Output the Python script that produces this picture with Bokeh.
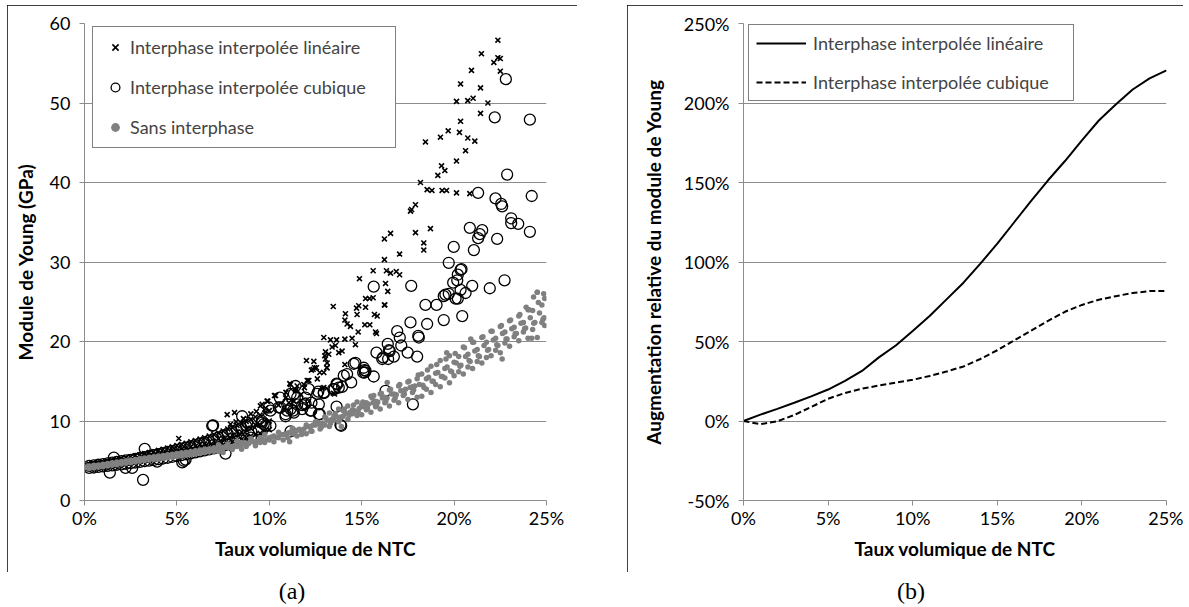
from bokeh.plotting import figure
from bokeh.models import (Legend, LegendItem, ColumnDataSource, PrintfTickFormatter,
                          FixedTicker, Range1d, Div, Spacer)
from bokeh.layouts import row, column
from bokeh.embed import file_html
from bokeh.resources import INLINE

# ---------------- data : panel (a) ----------------
# "Interphase interpolée linéaire" (x markers) - dense part near the origin
lin_dense_x = [0.25,0.5,0.75,1.0,1.25,1.5,1.75,2.0,2.25,2.5,2.75,3.0,3.25,3.5,3.75,4.0,4.25,4.5,4.75,5.0,
               5.25,5.5,5.75,6.0,6.25,6.5,6.75,7.0,7.25,7.5,7.75,8.0,8.25,8.5,8.75,9.0,9.25,9.5,9.75,10.0]
lin_dense_lo = [4.12,4.18,4.25,4.33,4.36,4.45,4.52,4.6,4.68,4.75,4.82,4.9,5.02,5.1,5.17,5.3,5.38,5.5,5.58,5.7,
                5.82,5.95,6.05,6.18,6.3,6.42,6.55,6.7,6.85,7.02,7.2,7.38,7.55,7.7,7.9,8.1,8.3,8.45,8.7,8.9]
lin_dense_mid = [4.27,4.31,4.38,4.52,4.57,4.63,4.77,4.83,4.97,5.03,5.17,5.23,5.42,5.48,5.62,5.73,5.88,5.97,6.14,6.22,
                 6.43,6.52,6.74,6.82,7.05,7.1,7.36,7.45,7.76,7.85,8.18,8.22,8.6,8.62,9.02,9.08,9.52,9.5,10.0,10.0]
lin_dense_hi = [4.6,4.65,4.75,4.85,4.95,5.05,5.15,5.28,5.4,5.5,5.62,5.75,5.9,6.02,6.15,6.3,6.45,6.6,6.75,6.9,
                7.05,7.2,7.38,7.55,7.72,7.9,8.1,8.3,8.5,8.75,9.0,9.2,9.45,9.7,9.95,10.2,10.5,10.75,11.0,11.3]
# scattered points
lin_sparse_x = [22.37,21.48,22.37,22.5,22.15,20.94,22.5,20.35,21.43,20.13,20.74,21.03,21.83,21.43,20.35,18.45,19.26,19.68,
                20.29,20.74,21.12,20.62,20.13,19.32,19.5,19.12,18.18,18.54,18.8,19.35,19.59,20.13,20.85,
                17.64,17.91,17.7,16.23,16.56,17.91,18.72,18.36,18.36,17.05,16.23,16.34,16.56,16.87,17.05,16.29,16.41,16.23,
                15.62,14.88,15.21,15.42,15.62,16.25,13.46,14.72,14.84,15.21,14.12,14.75,15.69,15.84,14.09,14.21,14.39,15.17,
                15.44,14.81,15.75,15.8,12.95,13.31,13.64,14.09,14.48,14.66,13.4,13.58,13.04,13.22,13.76,13.94,12.01,12.41,
                13.04,13.13,14.09,12.37,13.1,13.0,12.28,12.45,12.73,11.11,11.51,11.87,12.14,12.86,13.46,10.28,9.88,9.52,
                10.88,11.06,11.33,7.72,8.12,5.1,9.61,9.92,10.34,11.15,11.42,12.05,12.55,12.95,13.13,13.53,12.95,
                9.0,9.3,8.6,9.8,10.5,8.2,7.9,10.9,11.4,11.7,12.6,11.9]
lin_sparse_y = [57.9,56.2,55.7,55.6,55.1,54.1,54.0,52.4,51.9,50.2,50.3,50.6,50.0,48.7,47.7,45.1,45.7,46.5,
                46.3,45.6,45.2,44.0,42.7,42.1,41.5,40.9,40.0,39.1,39.0,39.0,39.0,38.7,38.6,
                36.4,37.2,36.6,32.9,33.6,33.7,34.2,32.4,31.5,31.0,30.3,28.9,28.6,28.8,28.4,27.3,26.3,24.6,
                28.9,27.9,25.4,25.4,25.5,24.6,24.4,24.2,24.5,24.3,23.5,23.4,23.4,23.2,22.7,22.2,21.9,22.1,
                22.1,21.2,21.2,21.0,20.5,20.2,20.2,20.3,20.4,19.6,19.3,19.5,18.7,18.4,18.6,18.8,17.6,17.5,
                17.8,17.3,17.1,16.5,16.7,18.2,16.4,16.7,16.1,14.7,14.4,14.6,15.1,14.1,13.5,13.2,12.5,11.9,
                12.9,12.3,12.5,10.8,11.05,7.8,12.1,12.5,13.2,14.6,13.8,15.1,16.7,16.1,16.7,13.4,14.2,
                10.9,11.2,10.3,11.6,12.0,9.9,9.6,13.6,14.0,13.3,15.3,14.2]

# "Interphase interpolée cubique" (open circles)
cub_dense_x = [0.25,0.5,0.75,1.0,1.25,1.5,1.75,2.0,2.25,2.5,2.75,3.0,3.25,3.5,3.75,4.0,4.25,4.5,
               4.75,5.0,5.25,5.5,5.75,6.0,6.25,6.5,6.75,7.0,7.25,7.5,7.75,8.0,8.25,8.5,8.75,9.0]
cub_dense_lo = [4.1,4.15,4.22,4.3,4.35,4.42,4.5,4.55,4.62,4.7,4.78,4.86,4.95,5.02,5.1,5.2,5.28,5.38,
                5.5,5.6,5.7,5.82,5.92,6.05,6.18,6.3,6.42,6.55,6.72,6.88,7.05,7.2,7.38,7.55,7.72,7.9]
cub_dense_hi = [4.35,4.42,4.5,4.58,4.68,4.76,4.85,4.95,5.05,5.12,5.24,5.35,5.46,5.58,5.7,5.82,5.95,6.1,
                6.22,6.38,6.52,6.66,6.8,6.98,7.15,7.3,7.5,7.7,7.92,8.15,8.38,8.6,8.85,9.1,9.35,9.6]
cub_sparse_x = [22.8,22.2,24.1,22.87,21.3,22.24,24.2,22.55,22.6,23.09,23.09,23.47,24.1,20.85,21.52,21.39,21.3,22.33,
                19.98,21.07,19.71,20.4,20.35,20.2,20.17,19.95,20.35,20.62,20.2,20.08,19.53,19.44,19.71,20.98,21.93,22.73,
                17.68,18.45,19.05,20.44,17.64,18.54,19.44,16.92,17.06,18.06,18.09,16.41,17.14,16.47,17.49,18.0,16.74,16.11,
                15.65,15.8,16.43,14.66,15.11,16.52,16.16,15.15,15.17,15.65,14.21,14.43,13.64,13.76,13.46,12.65,12.95,12.59,
                16.29,17.77,13.64,12.68,10.88,11.29,11.78,11.96,12.23,12.28,11.51,11.15,10.51,10.06,10.57,10.97,13.89,
                10.06,9.7,9.6,14.57,15.08,15.21,14.03,13.67,13.53,13.94,12.95,12.14,11.96,12.68,12.27,12.73,11.42,11.33,
                11.51,11.9,11.78,11.15,11.33,10.88,10.61,10.97,9.97,9.61,9.79,9.43,9.02,8.8,8.53,13.85,11.15,
                1.37,3.17,5.29,5.47,7.63,6.96,3.26,1.59,2.22,2.58,3.93,5.37,6.91]
cub_sparse_y = [53.0,48.2,47.9,41.0,38.7,38.0,38.3,37.3,37.0,35.5,34.9,34.8,33.8,34.3,34.0,33.5,33.0,32.9,
                31.9,31.5,29.9,29.1,29.0,28.4,27.7,27.4,26.5,26.1,25.4,25.4,25.9,25.7,26.0,27.0,26.7,27.7,
                27.0,24.6,24.6,23.2,22.4,22.2,22.7,21.3,20.5,20.7,20.5,19.7,19.5,18.9,18.6,18.1,18.1,17.8,
                26.9,18.6,17.8,17.3,16.7,18.8,18.0,16.4,16.1,15.6,15.9,14.85,14.7,14.2,14.0,13.7,13.5,13.4,
                13.8,12.1,11.8,10.85,10.6,11.3,12.0,12.2,11.3,12.3,12.95,13.4,11.7,11.3,12.95,12.1,9.4,
                9.4,9.6,10.0,17.2,16.1,16.3,15.7,14.6,14.0,14.3,13.6,14.0,12.95,12.1,11.3,10.85,14.4,13.4,
                12.1,12.1,11.5,11.5,11.05,10.85,11.7,11.3,11.7,9.8,9.4,8.95,8.7,9.8,10.6,9.5,8.7,
                3.5,2.6,4.8,5.15,5.9,9.45,6.5,5.4,4.1,4.1,4.9,5.0,9.4]

# "Sans interphase" (grey dots)
gray_x_ab = [0.25,0.5,0.75,1.0,1.25,1.5,1.75,2.0,2.25,2.5,2.75,3.0,3.25,3.5,3.75,4.0,4.25,4.5,4.75,5.0,
             5.25,5.5,5.75,6.0,6.25,6.5,6.75,7.0,7.25,7.5,7.75,8.0,8.25,8.5,8.75,9.0,9.25,9.5,9.75,10.0,
             10.25,10.5,10.75,11.0,11.25,11.5,11.75,12.0,12.25,12.5,12.75,13.0,13.25,13.5,13.75,14.0,14.25,14.5,14.75,15.0,
             15.25,15.5,15.75,16.0,16.25,16.5,16.75,17.0,17.25,17.5,17.75,18.0,18.25,18.5,18.75,19.0,19.25,19.5,19.75,20.0,
             20.25,20.5,20.75,21.0,21.25,21.5,21.75,22.0,22.25,22.5,22.75,23.0,23.25,23.5,23.75,24.0,24.25,24.5,24.75,24.9]
gray_y_a = [4.33,4.42,4.48,4.57,4.66,4.74,4.83,4.92,5.0,5.1,5.17,5.27,5.35,5.43,5.5,5.6,5.66,5.75,5.82,5.9,
            6.0,6.08,6.17,6.25,6.36,6.45,6.52,6.62,
            7.0,6.7,7.1,6.7,7.5,7.3,7.2,7.8,7.4,7.9,8.3,7.9,8.1,8.6,8.3,8.5,9.1,8.8,8.7,9.5,9.3,9.9,9.6,10.5,
            11.0,10.6,11.5,11.3,11.9,11.4,12.4,12.0,12.3,13.1,12.5,13.4,13.0,13.9,13.4,14.4,13.8,14.9,14.3,15.3,
            15.9,15.3,16.9,16.0,17.6,16.6,18.2,17.4,18.1,19.3,18.4,19.9,19.0,20.5,19.9,21.3,20.4,21.9,21.2,22.6,
            21.8,23.2,22.4,24.0,23.9,26.2,24.6,25.4]
gray_y_b = [4.04,4.1,4.18,4.24,4.33,4.42,4.5,4.58,4.68,4.76,4.85,4.93,5.02,5.08,5.16,5.22,5.3,5.37,5.45,5.52,
            5.6,5.7,5.78,5.86,5.95,6.03,6.12,6.2,
            6.2,6.05,6.7,6.4,6.8,6.45,6.8,7.4,6.9,7.3,7.3,7.6,7.4,7.9,7.6,7.9,8.4,8.1,8.3,8.4,8.7,9.5,9.0,9.5,
            9.3,10.1,9.9,10.6,10.2,10.9,10.7,10.8,11.4,11.1,11.8,11.5,12.3,11.9,12.6,12.3,13.2,12.7,13.6,13.0,
            13.1,14.0,13.6,14.6,14.3,15.4,14.8,15.7,16.2,15.9,16.8,16.6,17.5,17.3,18.0,18.2,18.9,18.6,19.8,19.4,
            20.6,20.1,21.2,20.4,21.5,20.5,22.4,22.0]
gray_x_c = [0.12,0.37,0.62,0.87,1.12,1.37,1.62,1.87,2.12,2.37,2.62,2.87,3.12,3.37,3.62,3.87,4.12,4.37,4.62,4.87,
            5.12,5.37,5.62,5.87,6.12,6.37,6.62,6.87,7.12,7.37,7.62,7.87,8.12,8.37,8.62,8.87,9.12,9.37,9.62,9.87,
            10.12,10.37,10.62,10.87,11.12,11.37,11.62,11.87,12.12,12.37,12.62,12.87,13.12,13.37,13.62,13.87,14.12,14.37,14.62,14.87,
            15.12,15.37,15.62,15.87,16.12,16.37,16.62,16.87,17.12,17.37,17.62,17.87,18.12,18.37,18.62,18.87,19.12,19.37,19.62,19.87,
            20.12,20.37,20.62,20.87,21.12,21.37,21.62,21.87,22.12,22.37,22.62,22.87,23.12,23.37,23.62,23.87,24.12,24.37,24.62,24.87]
gray_y_c = [4.16,4.23,4.3,4.38,4.46,4.55,4.63,4.72,4.8,4.9,4.98,5.07,5.15,5.23,5.3,5.38,5.45,5.52,5.6,5.68,
            5.76,5.85,5.93,6.02,6.11,6.2,6.28,6.37,
            6.48,6.52,6.7,6.68,6.9,6.92,7.1,7.15,7.4,7.42,7.7,7.7,8.0,7.95,8.3,8.3,8.6,8.62,8.95,9.0,9.3,9.5,9.8,9.75,
            10.1,10.2,10.6,10.5,11.0,11.1,11.3,11.6,11.8,12.1,12.3,12.4,12.9,12.9,13.4,13.3,13.8,14.0,14.2,14.4,
            14.6,14.2,15.5,15.0,16.1,15.6,16.8,16.2,17.3,17.0,18.1,17.5,18.8,18.1,19.5,19.0,20.2,19.5,21.0,20.3,
            21.6,21.0,22.3,21.7,23.0,22.4,23.6,23.0]
gray_x_d = [12.06,12.31,12.56,12.81,13.06,13.31,13.56,13.81,14.06,14.31,14.56,14.81,15.06,15.31,15.56,15.81,
            16.06,16.31,16.56,16.81,17.06,17.31,17.56,17.81,18.06,18.31,18.56,18.81,19.06,19.31,19.56,19.81,
            20.06,20.31,20.56,20.81,21.06,21.31,21.56,21.81,22.06,22.31,22.56,22.81,23.06,23.31,23.56,23.81,
            24.06,24.31,24.56,24.81]
gray_y_d = [9.3,8.7,9.9,9.2,10.4,9.7,10.9,10.2,11.5,10.7,12.0,11.1,12.4,11.6,12.9,12.0,
            13.5,12.5,14.0,12.9,14.6,13.4,15.0,13.9,15.8,14.5,16.4,15.0,17.1,15.6,17.8,16.3,
            18.5,16.9,19.2,17.6,19.9,18.2,20.6,18.9,21.3,19.6,22.0,20.3,22.7,21.0,23.4,21.6,
            24.0,22.3,24.9,22.8]
gray_sparse_x = [22.6,24.2,16.38,15.65,24.5,24.85,24.3,23.9,13.9,11.1,20.9,19.6]
gray_sparse_y = [17.8,20.4,14.85,13.2,26.2,26.0,25.6,24.3,9.3,7.4,20.3,18.6]

# ---------------- data : panel (b) ----------------
rel_x = [0,1,2,3,4,5,6,7,8,9,10,11,12,13,14,15,16,17,18,19,20,21,22,23,24,25]
rel_lin = [0,4,7.6,11.5,15.5,19.8,25.3,31.5,40,47.5,56.6,66,76.5,87,99,111.5,125,138.5,151.4,163.5,176.5,189,199,208.5,215.5,220.5]
rel_cub = [0,-2,-0.2,3.8,8.8,14,17.6,20.3,22.3,24.2,25.9,28.3,31.1,34.3,39,44.5,50.7,56.8,63,68.7,73,76.3,78.5,80.5,81.7,81.7]

x_ticks = [0, 5, 10, 15, 20, 25]
ya_ticks = [0, 10, 20, 30, 40, 50, 60]
yb_ticks = [-50, 0, 50, 100, 150, 200, 250]

FONT = "Lato"
GRID = "#8c8c8c"
LBL = "18px"
TTL = "19px"
BOX = {"outline": "1px solid black", "outline-offset": "-1px"}


def style(p):
    for ax in p.axis:
        ax.axis_line_color = GRID
        ax.axis_line_width = 1
        ax.major_tick_line_color = GRID
        ax.minor_tick_line_color = None
        ax.major_tick_out = 5
        ax.major_tick_in = 0
        ax.major_label_text_font = FONT
        ax.major_label_text_font_size = LBL
        ax.major_label_text_color = "black"
        ax.axis_label_text_font = FONT
        ax.axis_label_text_font_size = TTL
        ax.axis_label_text_font_style = "bold"
        ax.axis_label_text_color = "black"
    p.xgrid.grid_line_color = None
    p.ygrid.grid_line_color = GRID
    p.ygrid.grid_line_width = 1
    p.outline_line_color = None
    p.background_fill_color = "white"
    p.border_fill_color = "white"
    p.xaxis.major_label_standoff = 1
    p.yaxis.major_label_standoff = 9
    p.xaxis.axis_label_standoff = 5
    p.xaxis.ticker = FixedTicker(ticks=x_ticks)
    p.xaxis.formatter = PrintfTickFormatter(format="%d%%")
    p.xaxis.axis_label = "Taux volumique de NTC"


# ---------------- panel (a) ----------------
pA = figure(width=570, height=567, x_range=Range1d(0, 25), y_range=Range1d(0, 60),
            output_backend="svg", toolbar_location=None,
            min_border_left=77, min_border_right=31, min_border_top=18, min_border_bottom=72)
style(pA)
pA.yaxis.ticker = FixedTicker(ticks=ya_ticks)
pA.yaxis.axis_label = "Module de Young (GPa)"
pA.yaxis.axis_label_standoff = 10

src_lin = ColumnDataSource(dict(x=lin_dense_x * 3 + lin_sparse_x,
                                y=lin_dense_lo + lin_dense_mid + lin_dense_hi + lin_sparse_y))
src_cub = ColumnDataSource(dict(x=cub_dense_x * 2 + cub_sparse_x,
                                y=cub_dense_lo + cub_dense_hi + cub_sparse_y))
src_gray = ColumnDataSource(dict(x=gray_x_ab * 2 + gray_x_c + gray_x_d + gray_sparse_x,
                                 y=gray_y_a + gray_y_b + gray_y_c + gray_y_d + gray_sparse_y))

r_lin = pA.scatter("x", "y", source=src_lin, marker="x", size=7, line_color="black", line_width=1.6)
r_cub = pA.scatter("x", "y", source=src_cub, marker="circle", size=11, line_color="black",
                   line_width=1.3, fill_color=None)
r_gray = pA.scatter("x", "y", source=src_gray, marker="circle", size=5.5, fill_color="#808080",
                    line_color=None)

legA = Legend(items=[LegendItem(label="Interphase interpolée linéaire", renderers=[r_lin]),
                     LegendItem(label="Interphase interpolée cubique", renderers=[r_cub]),
                     LegendItem(label="Sans interphase", renderers=[r_gray])],
              location=(8, 352), padding=9, spacing=18, glyph_height=22, glyph_width=26,
              label_height=22, label_standoff=2, label_width=256, margin=0,
              border_line_color="black", border_line_width=1, background_fill_alpha=1,
              label_text_font=FONT, label_text_font_size=LBL)
pA.add_layout(legA)
pA.styles = dict(BOX)

# ---------------- panel (b) ----------------
pB = figure(width=556, height=567, x_range=Range1d(0, 25), y_range=Range1d(-50, 250),
            output_backend="svg", toolbar_location=None,
            min_border_left=116, min_border_right=17, min_border_top=18, min_border_bottom=72)
style(pB)
pB.yaxis.ticker = FixedTicker(ticks=yb_ticks)
pB.yaxis.formatter = PrintfTickFormatter(format="%d%%")
pB.yaxis.axis_label = "Augmentation relative du module de Young"
pB.yaxis.axis_label_standoff = 16

srcB = ColumnDataSource(dict(x=rel_x, lin=rel_lin, cub=rel_cub))
rb1 = pB.line("x", "lin", source=srcB, line_color="black", line_width=2)
rb2 = pB.line("x", "cub", source=srcB, line_color="black", line_width=2, line_dash="6 3")

legB = Legend(items=[LegendItem(label="Interphase interpolée linéaire", renderers=[rb1]),
                     LegendItem(label="Interphase interpolée cubique", renderers=[rb2])],
              location=(5, 399), padding=7, spacing=17, glyph_height=22, glyph_width=50,
              label_height=22, label_standoff=7, label_width=253, margin=0,
              border_line_color="black", border_line_width=1, background_fill_alpha=1,
              label_text_font=FONT, label_text_font_size=LBL)
pB.add_layout(legB)
pB.styles = dict(BOX)

cap_style = {"font-family": "'Liberation Serif', 'Times New Roman', serif", "font-size": "24px",
             "line-height": "24px", "text-align": "center", "padding-top": "7px", "color": "black"}
capA = Div(text="(a)", width=570, height=34, margin=0, styles=dict(cap_style))
capB = Div(text='<span style="position:relative; left:6px">(b)</span>', width=556, height=34,
           margin=0, styles=dict(cap_style))

layout = row(Spacer(width=7), column(Spacer(height=5), pA, capA), Spacer(width=50),
             column(Spacer(height=5), pB, capB))

with open("out.html", "w") as f:
    f.write(file_html(layout, INLINE))
